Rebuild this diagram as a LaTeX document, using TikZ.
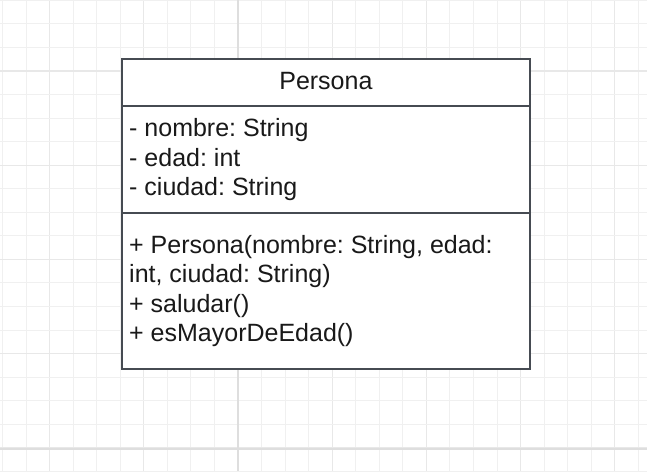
\documentclass[tikz,border=0pt]{standalone}
\usepackage{fontspec}
\setmainfont{Liberation Sans}
\frenchspacing
\definecolor{minorgrid}{RGB}{240,240,240}
\definecolor{majorgrid}{RGB}{232,232,232}
\definecolor{pagegrid}{RGB}{222,222,222}
\definecolor{umlline}{RGB}{70,75,82}
\definecolor{umltext}{RGB}{25,25,25}
\tikzset{
  minorline/.style={draw=minorgrid, line width=1pt},
  majorline/.style={draw=majorgrid, line width=1.3pt},
  pageline/.style={draw=pagegrid, line width=1.8pt},
  compartment/.style={draw=umlline, fill=white, line width=2pt, rectangle, inner sep=0pt, minimum width=407.7pt},
  member/.style={anchor=base west, inner sep=0pt, text=umltext, font=\fontsize{25}{29.5}\selectfont},
  titletext/.style={anchor=base, inner sep=0pt, text=umltext, font=\fontsize{25}{29.5}\selectfont}
}
\begin{document}
\begin{tikzpicture}[x=1pt,y=-1pt]
\useasboundingbox (0,0) rectangle (647,471);
\fill[white] (0,0) rectangle (647,471);
% grid
\foreach \k in {0,...,27} {
  \pgfmathsetmacro{\gx}{2.5+23.55*\k}
  \pgfmathtruncatemacro{\m}{mod(\k,4)}
  \ifnum\m=2 \path[majorline] (\gx,0) -- (\gx,471); \else \path[minorline] (\gx,0) -- (\gx,471); \fi
}
\foreach \k in {0,...,20} {
  \pgfmathsetmacro{\gy}{0.35+23.55*\k}
  \pgfmathtruncatemacro{\m}{mod(\k,4)}
  \ifnum\m=3 \path[majorline] (0,\gy) -- (647,\gy); \else \path[minorline] (0,\gy) -- (647,\gy); \fi
}
\path[pageline] (238,0) -- (238,471);
\path[pageline] (0,449) -- (647,449);
% class compartments
\node[compartment, minimum height=47pt] (head) at (325.9,82.8) {};
\node[compartment, minimum height=106.7pt] (attrs) at (325.9,159.65) {};
\node[compartment, minimum height=156pt] (meths) at (325.9,291) {};
% texts
\node[titletext] (name) at (325.9,89.3) {Persona};
\node[member] (a1) at (129,136.7) {- nombre: String};
\node[member] (a2) at (129,166.2) {- edad: int};
\node[member] (a3) at (129,195.9) {- ciudad: String};
\node[member] (m1) at (129,253.3) {+ Persona(nombre: String, edad:};
\node[member] (m2) at (129,282.8) {int, ciudad: String)};
\node[member] (m3) at (129,312.3) {+ saludar()};
\node[member] (m4) at (129,341.8) {+ esMayorDeEdad()};
\end{tikzpicture}
\end{document}
